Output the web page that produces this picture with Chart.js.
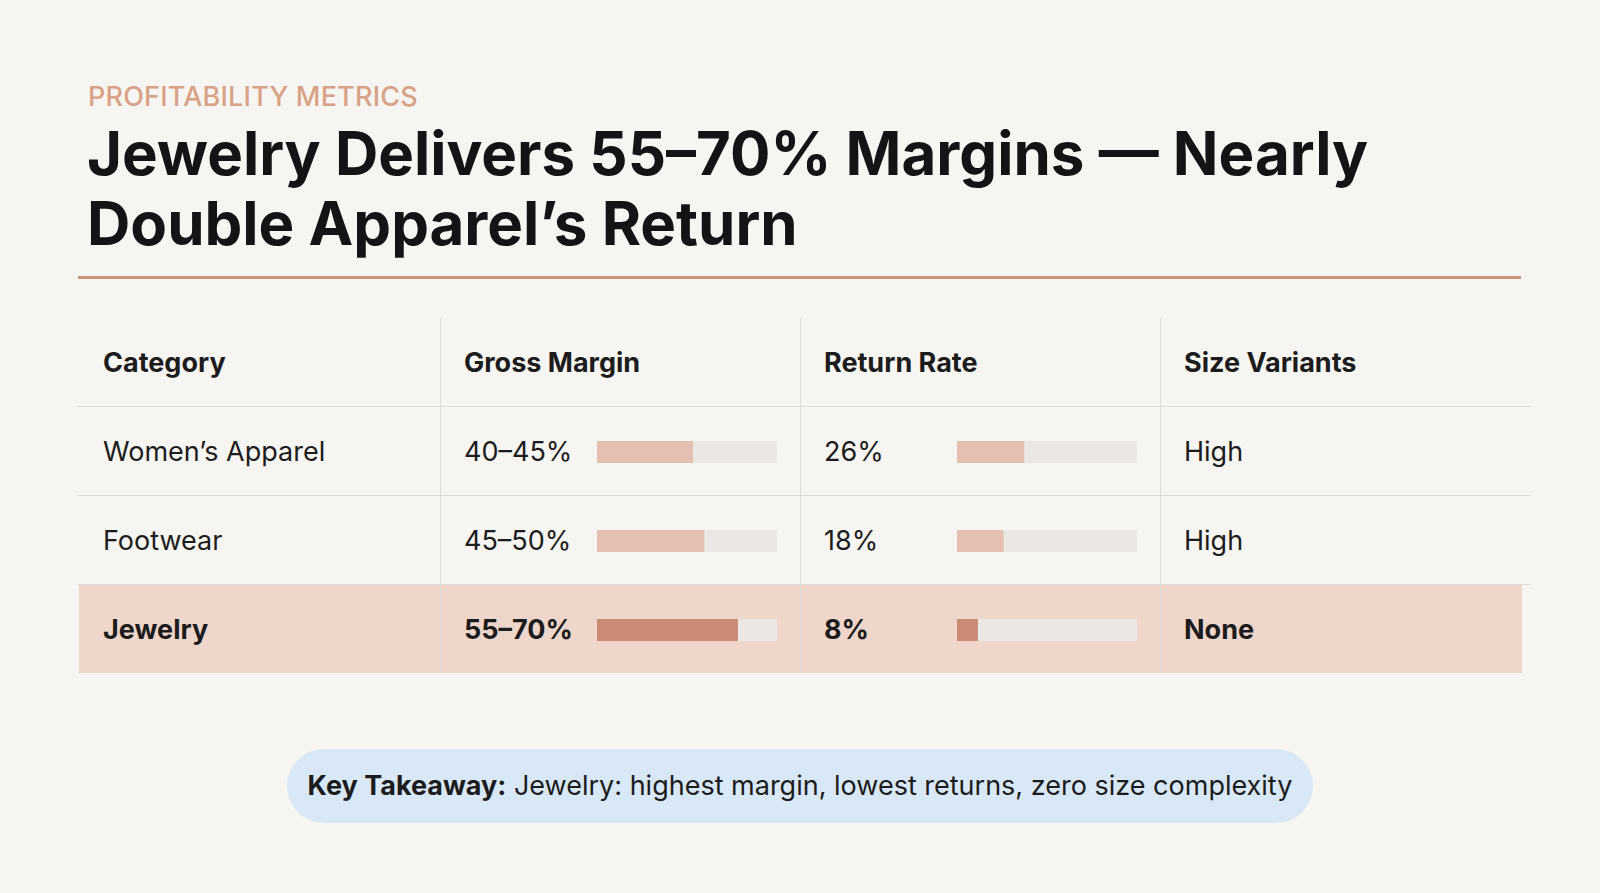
<!DOCTYPE html>
<html><head><meta charset="utf-8">
<script src="https://cdn.jsdelivr.net/npm/chart.js@4.4.0/dist/chart.umd.min.js"></script>
<style>
body{margin:0;width:1600px;height:893px;background:#f7f5f1;font-family:Inter,"Open Sans",sans-serif;color:#1c1c1c;position:relative;overflow:hidden}
.abs{position:absolute}
#kicker{left:88px;top:80px;font-size:27px;color:#d8a286;font-weight:500;letter-spacing:0.2px}
#title{left:87px;top:118px;font-size:60px;font-weight:700;line-height:70px;letter-spacing:0px;color:#141414}
#rule{left:78px;top:276px;width:1443px;height:3px;background:#c9957b}
.hl{height:1px;background:#dedbd6;left:78px;width:1452px}
.vl{width:1px;background:#dedbd6;top:318px;height:354px}
.cell{font-size:27px;height:89px;line-height:89px}
.hdr{font-weight:700}
canvas{display:block}
.bar{width:180px;height:22px}
#pill{left:287px;top:749px;width:1026px;height:74px;border-radius:37px;background:#d9e8f6;text-align:center;line-height:74px;font-size:27px}
</style></head><body>
<div id="kicker" class="abs">PROFITABILITY METRICS</div>
<div id="title" class="abs">Jewelry Delivers 55–70% Margins — Nearly<br>Double Apparel’s Return</div>
<div id="rule" class="abs"></div>
<div class="abs" style="left:79px;top:584px;width:1443px;height:89px;background:#efd6cb"></div>
<div id="table"></div>
<div id="pill" class="abs"><b>Key Takeaway:</b> Jewelry: highest margin, lowest returns, zero size complexity</div>
<script>
const headers=["Category","Gross Margin","Return Rate","Size Variants"];
const categories=["Women’s Apparel","Footwear","Jewelry"];
const marginLabels=["40–45%","45–50%","55–70%"];
const marginValues=[42.5,47.5,62.5];
const returnLabels=["26%","18%","8%"];
const returnValues=[26,18,8];
const sizeVariants=["High","High","None"];
const marginMax=80, returnMax=70;

const colX=[79,440,800,1160], top0=318, rowH=89;
const root=document.getElementById('table');
function add(html,cls,style){const d=document.createElement('div');d.className='abs '+cls;d.style.cssText=style;d.innerHTML=html;root.appendChild(d);return d;}
[406,495,584].forEach(y=>add('','hl','top:'+y+'px'));
[440,800,1160].forEach(x=>add('','vl','left:'+x+'px'));
headers.forEach((h,i)=>add(h,'cell hdr','left:'+(colX[i]+24)+'px;top:'+top0+'px'));
function bar(x,y,val,max,hi){
  const wrap=add('<canvas width="180" height="22"></canvas>','bar','left:'+x+'px;top:'+y+'px');
  new Chart(wrap.querySelector('canvas'),{type:'bar',
    data:{labels:[''],datasets:[
      {data:[val],backgroundColor:hi?'#c98b76':'#e3c0b1',barPercentage:1,categoryPercentage:1,grouped:false},
      {data:[max],backgroundColor:'#ebe8e4',barPercentage:1,categoryPercentage:1,grouped:false}]},
    options:{indexAxis:'y',responsive:false,animation:false,maintainAspectRatio:false,
      layout:{padding:0},
      plugins:{legend:{display:false},tooltip:{enabled:false}},
      scales:{x:{display:false,min:0,max:max},y:{display:false}}}});
}
categories.forEach((c,r)=>{
  const y=top0+rowH*(r+1), hi=r===2, w=hi?'font-weight:700;':'';
  add(c,'cell',w+'left:'+(colX[0]+24)+'px;top:'+y+'px');
  add(marginLabels[r],'cell',w+'left:'+(colX[1]+24)+'px;top:'+y+'px');
  add(returnLabels[r],'cell',w+'left:'+(colX[2]+24)+'px;top:'+y+'px');
  add(sizeVariants[r],'cell',w+'left:'+(colX[3]+24)+'px;top:'+y+'px');
  bar(597,y+34,marginValues[r],marginMax,hi);
  bar(957,y+34,returnValues[r],returnMax,hi);
});
</script>
</body></html>
